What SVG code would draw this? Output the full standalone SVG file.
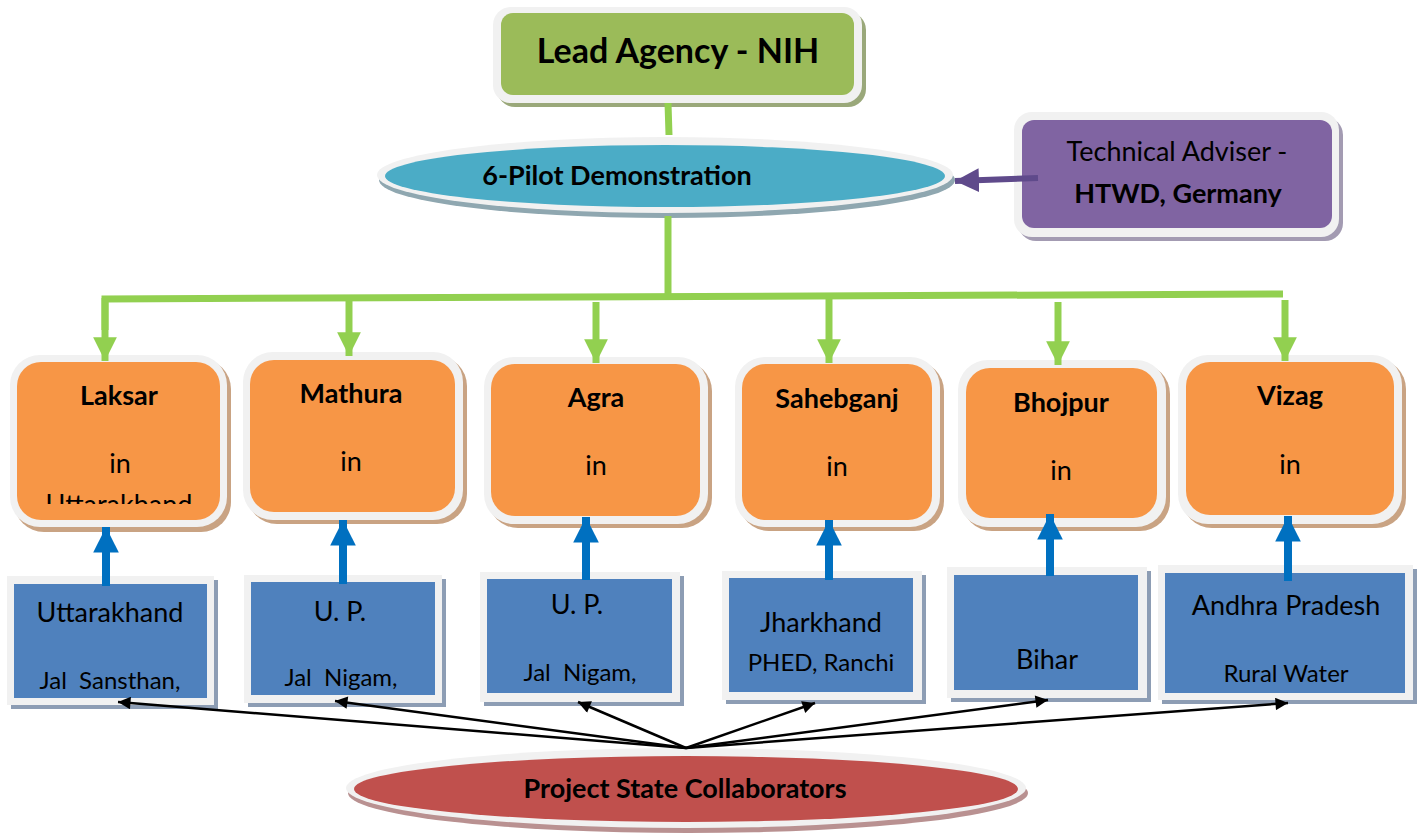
<svg xmlns="http://www.w3.org/2000/svg" width="1423" height="835" viewBox="0 0 1423 835">
  <style>
    text { font-family: Lato, "Open Sans", "Liberation Sans", sans-serif; fill: #000; text-anchor: middle; font-size: 27px; }
    .b { font-weight: bold; }
    .sm { font-size: 24px; }
    .title { font-size: 34px; }
    .frame { fill: #f1f1f1; }
    .green { fill: #9bbb59; }
    .teal { fill: #4bacc6; }
    .purple { fill: #8064a2; }
    .orange { fill: #f79646; }
    .blue { fill: #4f81bd; }
    .red { fill: #c0504d; }
    .sh-green { fill: #9aa87a; }
    .sh-teal { fill: #8fa7b0; }
    .sh-purple { fill: #a39bb2; }
    .sh-orange { fill: #c9a383; }
    .sh-blue { fill: #8d9db4; }
    .sh-red { fill: #b99191; }
    .tree { stroke: #92d050; stroke-width: 7; fill: none; }
    .up { stroke: #0070c0; stroke-width: 8; fill: none; }
    .thin { stroke: #000; stroke-width: 2.5; fill: none; marker-end: url(#blk); }
  </style>
  <defs>
    <marker id="grn" viewBox="0 0 10 10" refX="10" refY="5" markerWidth="3.4" markerHeight="3.4" orient="auto" markerUnits="strokeWidth">
      <path d="M0,0 L10,5 L0,10 z" fill="#92d050"/>
    </marker>
    <marker id="blu" viewBox="0 0 10 10" refX="10" refY="5" markerWidth="3.2" markerHeight="3.2" orient="auto" markerUnits="strokeWidth">
      <path d="M0,0 L10,5 L0,10 z" fill="#0070c0"/>
    </marker>
    <marker id="pur" viewBox="0 0 10 10" refX="10" refY="5" markerWidth="4" markerHeight="4" orient="auto" markerUnits="strokeWidth">
      <path d="M0,0 L10,5 L0,10 z" fill="#5f4a8b"/>
    </marker>
    <marker id="blk" viewBox="0 0 10 10" refX="10" refY="5" markerWidth="6" markerHeight="5" orient="auto" markerUnits="strokeWidth">
      <path d="M0,0 L10,5 L0,10 z" fill="#000"/>
    </marker>
    <clipPath id="clipLaksar">
      <rect x="17" y="362" width="203" height="142"/>
    </clipPath>
  </defs>

  <!-- lead agency -->
  <g id="lead">
    <rect class="sh-green" x="497" y="12" width="369" height="95" rx="18"/>
    <rect class="frame" x="493" y="7" width="369" height="96" rx="18"/>
    <rect class="green" x="501" y="13" width="353" height="82" rx="12"/>
    <text class="b title" x="678" y="63">Lead Agency - NIH</text>
  </g>

  <!-- pilot demonstration -->
  <g id="pilot">
    <ellipse class="sh-teal" cx="667" cy="180" rx="288" ry="38"/>
    <ellipse class="frame" cx="665" cy="175" rx="288" ry="38"/>
    <ellipse class="teal" cx="665" cy="176" rx="280" ry="31"/>
    <text class="b" x="617" y="185">6-Pilot Demonstration</text>
  </g>

  <!-- technical adviser -->
  <g id="adviser">
    <rect class="sh-purple" x="1018" y="117" width="325" height="124" rx="18"/>
    <rect class="frame" x="1014" y="112" width="325" height="125" rx="18"/>
    <rect class="purple" x="1022" y="120" width="310" height="108" rx="12"/>
    <text x="1177" y="161">Technical Adviser -</text>
    <text class="b" x="1178" y="203">HTWD, Germany</text>
  </g>

  <!-- pilot sites -->
  <g id="laksar">
    <rect class="sh-orange" x="14" y="359" width="217" height="173" rx="30"/>
    <rect class="frame" x="10" y="355" width="217" height="172" rx="30"/>
    <rect class="orange" x="17" y="362" width="203" height="158" rx="24"/>
    <text class="b" x="119" y="405">Laksar</text>
    <text x="120" y="473">in</text>
    <text x="119" y="514" clip-path="url(#clipLaksar)">Uttarakhand</text>
  </g>
  <g id="mathura">
    <rect class="sh-orange" x="247" y="356" width="220" height="168" rx="30"/>
    <rect class="frame" x="243" y="352" width="220" height="168" rx="30"/>
    <rect class="orange" x="250" y="360" width="205" height="152" rx="24"/>
    <text class="b" x="351" y="403">Mathura</text>
    <text x="351" y="471">in</text>
  </g>
  <g id="agra">
    <rect class="sh-orange" x="488" y="361" width="224" height="167" rx="30"/>
    <rect class="frame" x="484" y="357" width="224" height="167" rx="30"/>
    <rect class="orange" x="491" y="364" width="209" height="152" rx="24"/>
    <text class="b" x="596" y="407">Agra</text>
    <text x="596" y="475">in</text>
  </g>
  <g id="sahebganj">
    <rect class="sh-orange" x="739" y="361" width="205" height="170" rx="30"/>
    <rect class="frame" x="735" y="357" width="205" height="170" rx="30"/>
    <rect class="orange" x="742" y="364" width="190" height="156" rx="24"/>
    <text class="b" x="837" y="408">Sahebganj</text>
    <text x="837" y="476">in</text>
  </g>
  <g id="bhojpur">
    <rect class="sh-orange" x="962" y="364" width="208" height="167" rx="30"/>
    <rect class="frame" x="958" y="360" width="208" height="167" rx="30"/>
    <rect class="orange" x="966" y="368" width="191" height="150" rx="24"/>
    <text class="b" x="1061" y="412">Bhojpur</text>
    <text x="1061" y="480">in</text>
  </g>
  <g id="vizag">
    <rect class="sh-orange" x="1182" y="359" width="224" height="169" rx="30"/>
    <rect class="frame" x="1178" y="355" width="224" height="169" rx="30"/>
    <rect class="orange" x="1186" y="362" width="208" height="153" rx="24"/>
    <text class="b" x="1290" y="405">Vizag</text>
    <text x="1290" y="474">in</text>
  </g>

  <!-- state collaborators -->
  <g id="uttarakhand">
    <rect class="sh-blue" x="11" y="580" width="207" height="129"/>
    <rect class="frame" x="7" y="576" width="207" height="129"/>
    <rect class="blue" x="14" y="584" width="193" height="114"/>
    <text x="110" y="622">Uttarakhand</text>
    <text class="sm" x="110" y="689" xml:space="preserve">Jal  Sansthan,</text>
  </g>
  <g id="up-mathura">
    <rect class="sh-blue" x="248" y="579" width="198" height="128"/>
    <rect class="frame" x="244" y="575" width="198" height="128"/>
    <rect class="blue" x="251" y="582" width="184" height="113"/>
    <text x="340" y="621">U. P.</text>
    <text class="sm" x="341" y="686" xml:space="preserve">Jal  Nigam,</text>
  </g>
  <g id="up-agra">
    <rect class="sh-blue" x="484" y="576" width="200" height="130"/>
    <rect class="frame" x="480" y="572" width="200" height="130"/>
    <rect class="blue" x="487" y="579" width="185" height="114"/>
    <text x="577" y="614">U. P.</text>
    <text class="sm" x="580" y="681" xml:space="preserve">Jal  Nigam,</text>
  </g>
  <g id="jharkhand">
    <rect class="sh-blue" x="726" y="575" width="200" height="129"/>
    <rect class="frame" x="722" y="571" width="200" height="129"/>
    <rect class="blue" x="729" y="578" width="184" height="114"/>
    <text x="821" y="632">Jharkhand</text>
    <text class="sm" x="821" y="671">PHED, Ranchi</text>
  </g>
  <g id="bihar">
    <rect class="sh-blue" x="951" y="571" width="200" height="131"/>
    <rect class="frame" x="947" y="567" width="200" height="131"/>
    <rect class="blue" x="954" y="575" width="184" height="115"/>
    <text x="1047" y="669">Bihar</text>
  </g>
  <g id="andhra">
    <rect class="sh-blue" x="1162" y="569" width="255" height="135"/>
    <rect class="frame" x="1158" y="565" width="255" height="135"/>
    <rect class="blue" x="1165" y="573" width="240" height="120"/>
    <text x="1286" y="615">Andhra Pradesh</text>
    <text class="sm" x="1286" y="682">Rural Water</text>
  </g>

  <!-- project state collaborators -->
  <g id="collaborators">
    <ellipse class="sh-red" cx="688" cy="793" rx="340" ry="40"/>
    <ellipse class="frame" cx="686" cy="788" rx="340" ry="40"/>
    <ellipse class="red" cx="686" cy="789" rx="332" ry="33"/>
    <text class="b" x="685" y="798">Project State Collaborators</text>
  </g>

  <!-- connectors -->
  <g id="connectors">
    <line class="tree" x1="668" y1="103" x2="669" y2="135"/>
    <line class="tree" x1="668" y1="216" x2="668" y2="297"/>
    <polyline class="tree" points="105,330 105,299 1283,294"/>
    <line class="tree" x1="105" y1="298" x2="105" y2="361" marker-end="url(#grn)"/>
    <line class="tree" x1="349" y1="297" x2="349" y2="356" marker-end="url(#grn)"/>
    <line class="tree" x1="596" y1="302" x2="596" y2="363" marker-end="url(#grn)"/>
    <line class="tree" x1="829" y1="296" x2="829" y2="363" marker-end="url(#grn)"/>
    <line class="tree" x1="1058" y1="302" x2="1058" y2="365" marker-end="url(#grn)"/>
    <line class="tree" x1="1285" y1="300" x2="1285" y2="361" marker-end="url(#grn)"/>

    <line x1="1038" y1="178" x2="955" y2="181" stroke="#5f4a8b" stroke-width="6" marker-end="url(#pur)"/>

    <line class="up" x1="106" y1="586" x2="106" y2="527" marker-end="url(#blu)"/>
    <line class="up" x1="343" y1="584" x2="343" y2="520" marker-end="url(#blu)"/>
    <line class="up" x1="586" y1="580" x2="586" y2="517" marker-end="url(#blu)"/>
    <line class="up" x1="829" y1="580" x2="829" y2="520" marker-end="url(#blu)"/>
    <line class="up" x1="1050" y1="576" x2="1050" y2="514" marker-end="url(#blu)"/>
    <line class="up" x1="1288" y1="581" x2="1288" y2="516" marker-end="url(#blu)"/>

    <line class="thin" x1="686" y1="748" x2="118" y2="702"/>
    <line class="thin" x1="686" y1="748" x2="335" y2="701"/>
    <line class="thin" x1="686" y1="748" x2="578" y2="702"/>
    <line class="thin" x1="686" y1="748" x2="815" y2="703"/>
    <line class="thin" x1="686" y1="748" x2="1048" y2="700"/>
    <line class="thin" x1="686" y1="748" x2="1288" y2="703"/>
  </g>
</svg>
